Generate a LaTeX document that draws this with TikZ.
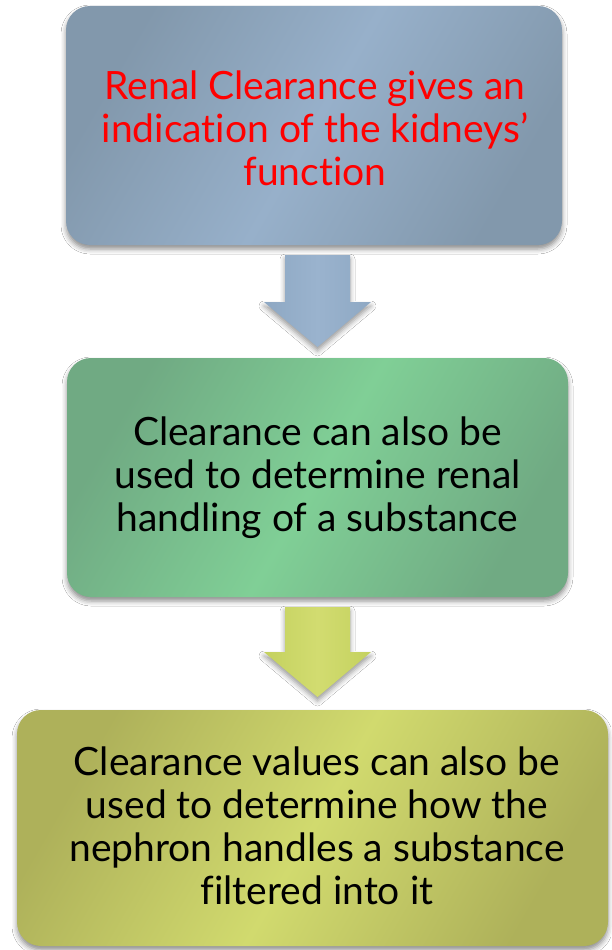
\documentclass[tikz,border=0pt]{standalone}
\usepackage{fontspec}
\setmainfont{Lato}[Ligatures=NoCommon]
\usetikzlibrary{calc,shadows.blur}
\definecolor{bAdark}{HTML}{8298AC}
\definecolor{bAlight}{HTML}{97B0CA}
\definecolor{bBdark}{HTML}{70AA83}
\definecolor{bBlight}{HTML}{80CF96}
\definecolor{bCdark}{HTML}{AEB15A}
\definecolor{bClight}{HTML}{D1DA6E}
\definecolor{arA}{HTML}{8EA8C3}
\definecolor{arAl}{HTML}{9AB3CE}
\definecolor{arB}{HTML}{C4D15F}
\definecolor{arBl}{HTML}{D2DC70}
\definecolor{txtred}{HTML}{FF0000}
\tikzset{
  stepbox/.style={rounded corners=24pt, inner sep=0pt,
    blur shadow={shadow xshift=0pt, shadow yshift=-4pt, shadow blur radius=5pt, shadow opacity=45}},
  steptext/.style={align=center, font=\fontsize{39}{43}\selectfont},
  blockarrow/.style={blur shadow={shadow xshift=0pt, shadow yshift=-4pt, shadow blur radius=5pt, shadow opacity=40}}
}
\begin{document}
\begin{tikzpicture}[x=1pt,y=-1pt]
\useasboundingbox (0,0) rectangle (611,950);
\fill[white] (0,0) rectangle (611,950);
% boxes
\path[stepbox, left color=bAdark, right color=bAdark, middle color=bAlight, shading angle=60]
  (66,6) rectangle (562,245);
\node[steptext, text=txtred] (b1) at (315,128)
  {Renal Clearance gives an\\indication of the kidneys’\\function};
\path[stepbox, left color=bBdark, right color=bBdark, middle color=bBlight, shading angle=60]
  (67,358) rectangle (568,597);
\node[steptext] (b2) at (317.5,478)
  {Clearance can also be\\used to determine renal\\handling of a substance};
\path[stepbox, left color=bCdark, right color=bCdark, middle color=bClight, shading angle=60]
  (17,710) rectangle (608,946);
\node[steptext] (b3) at (317,826)
  {Clearance values can also be\\used to determine how the\\nephron handles a substance\\filtered into it};
% arrows
\coordinate (a1) at (317.5,255);
\path[blockarrow, left color=arA, right color=arA, middle color=arAl]
  ($(a1)+(-32.5,0)$) -- ($(a1)+(32.5,0)$) -- ($(a1)+(32.5,47)$) -- ($(a1)+(53.5,47)$)
  -- ($(a1)+(0,92)$) -- ($(a1)+(-53.5,47)$) -- ($(a1)+(-32.5,47)$) -- cycle;
\coordinate (a2) at (317.5,607);
\path[blockarrow, left color=arB, right color=arB, middle color=arBl]
  ($(a2)+(-32.5,0)$) -- ($(a2)+(32.5,0)$) -- ($(a2)+(32.5,45)$) -- ($(a2)+(53.5,45)$)
  -- ($(a2)+(0,90)$) -- ($(a2)+(-53.5,45)$) -- ($(a2)+(-32.5,45)$) -- cycle;
\end{tikzpicture}
\end{document}
